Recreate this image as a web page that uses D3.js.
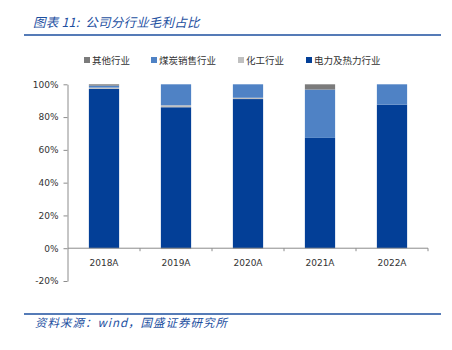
<!DOCTYPE html>
<html>
<head>
<meta charset="utf-8">
<script src="https://cdn.jsdelivr.net/npm/d3@7/dist/d3.min.js"></script>
<style>
  html, body { margin: 0; padding: 0; background: #fff; }
  svg { display: block; }
</style>
</head>
<body>
<svg id="chart" width="452" height="350"></svg>
<script>
// Gross-profit share by business segment, percent of total
const years = ["2018A", "2019A", "2020A", "2021A", "2022A"];
const power = [97.2, 86.0, 91.0, 67.3, 87.6];     // 电力及热力行业
const chemical = [0.8, 1.2, 0.8, 0.0, 0.0];       // 化工行业
const coal = [1.2, 12.8, 8.2, 29.5, 12.4];        // 煤炭销售行业
const other = [0.8, -0.5, -0.3, 3.2, 0.0];        // 其他行业
const yTicks = [-20, 0, 20, 40, 60, 80, 100];

const seriesKeys = ["power", "chemical", "coal", "other"];
const seriesColor = { power: "#033f97", chemical: "#c0c0c0", coal: "#4f82c5", other: "#7b7b7b" };
const legendItems = [
  { key: "other", label: "其他行业", x: 84 },
  { key: "coal", label: "煤炭销售行业", x: 151 },
  { key: "chemical", label: "化工行业", x: 238 },
  { key: "power", label: "电力及热力行业", x: 306 }
];

const rows = years.map((y, i) => ({
  year: y, power: power[i], chemical: chemical[i], coal: coal[i], other: other[i]
}));

const svg = d3.select("#chart");
const blue = "#1d4f9f";
const cjk = "'Noto Sans CJK SC', 'Noto Sans', sans-serif";

// Title and rule
const title = svg.append("text")
  .attr("x", 33).attr("y", 27)
  .attr("font-family", cjk).attr("font-size", 12.5)
  .attr("font-style", "italic").attr("fill", blue)
  .attr("letter-spacing", 0.2);
title.append("tspan").text("图表 11:");
title.append("tspan").attr("dx", 6).text("公司分行业毛利占比");
svg.append("line").attr("x1", 24).attr("x2", 441).attr("y1", 35).attr("y2", 35)
  .attr("stroke", blue).attr("stroke-width", 1.6);

// Legend
const lg = svg.append("g");
legendItems.forEach(d => {
  lg.append("rect").attr("x", d.x).attr("y", 57).attr("width", 6).attr("height", 6)
    .attr("fill", seriesColor[d.key]);
  lg.append("text").attr("x", d.x + 8).attr("y", 64)
    .attr("font-family", cjk).attr("font-size", 9.5).attr("fill", "#333")
    .text(d.label);
});

// Scales
const x = d3.scaleBand().domain(years).range([68, 428]).paddingInner(0.58).paddingOuter(0.29);
const y = d3.scaleLinear().domain([-20, 100]).range([281, 84.3]);

const stacked = d3.stack().keys(seriesKeys).offset(d3.stackOffsetDiverging)(rows);

svg.append("g").selectAll("g").data(stacked).join("g")
  .attr("fill", s => seriesColor[s.key])
  .selectAll("rect").data(s => s).join("rect")
  .attr("x", d => x(d.data.year))
  .attr("width", x.bandwidth())
  .attr("y", d => y(Math.max(d[0], d[1])))
  .attr("height", d => Math.abs(y(d[0]) - y(d[1])));

const axisColor = "#8c8c8c";
const tickFont = "'DejaVu Sans', Verdana, sans-serif";

// Y axis
const yAxis = svg.append("g").attr("transform", "translate(67.5,0)")
  .call(d3.axisLeft(y).tickValues(yTicks).tickFormat(d => d + "%").tickSize(4).tickSizeOuter(0));
yAxis.select(".domain").attr("stroke", axisColor);
yAxis.selectAll(".tick line").attr("stroke", axisColor);
yAxis.selectAll(".tick text").attr("font-family", tickFont).attr("font-size", 9)
  .attr("fill", "#333").attr("x", -9);

// X axis on the zero line, ticks at category boundaries
const xAxisG = svg.append("g").attr("transform", `translate(0,${y(0)})`);
xAxisG.append("line").attr("x1", 68).attr("x2", 428).attr("stroke", axisColor);
const step = x.step();
const bounds = d3.range(years.length + 1).map(i => 68 + i * step);
xAxisG.selectAll("line.b").data(bounds.slice(1)).join("line").attr("class", "b")
  .attr("x1", d => d).attr("x2", d => d).attr("y1", 0).attr("y2", 3).attr("stroke", axisColor);
xAxisG.selectAll("text").data(years).join("text")
  .attr("x", d => x(d) + x.bandwidth() / 2).attr("y", 17.5)
  .attr("text-anchor", "middle").attr("font-family", tickFont).attr("font-size", 9)
  .attr("fill", "#333").text(d => d);

// Source note
svg.append("line").attr("x1", 24).attr("x2", 441).attr("y1", 314).attr("y2", 314)
  .attr("stroke", blue).attr("stroke-width", 1.6);
svg.append("text")
  .attr("x", 35).attr("y", 327)
  .attr("font-family", cjk).attr("font-size", 11.5)
  .attr("font-style", "italic").attr("fill", blue)
  .attr("letter-spacing", 1)
  .text("资料来源：wind，国盛证券研究所");
</script>
</body>
</html>
